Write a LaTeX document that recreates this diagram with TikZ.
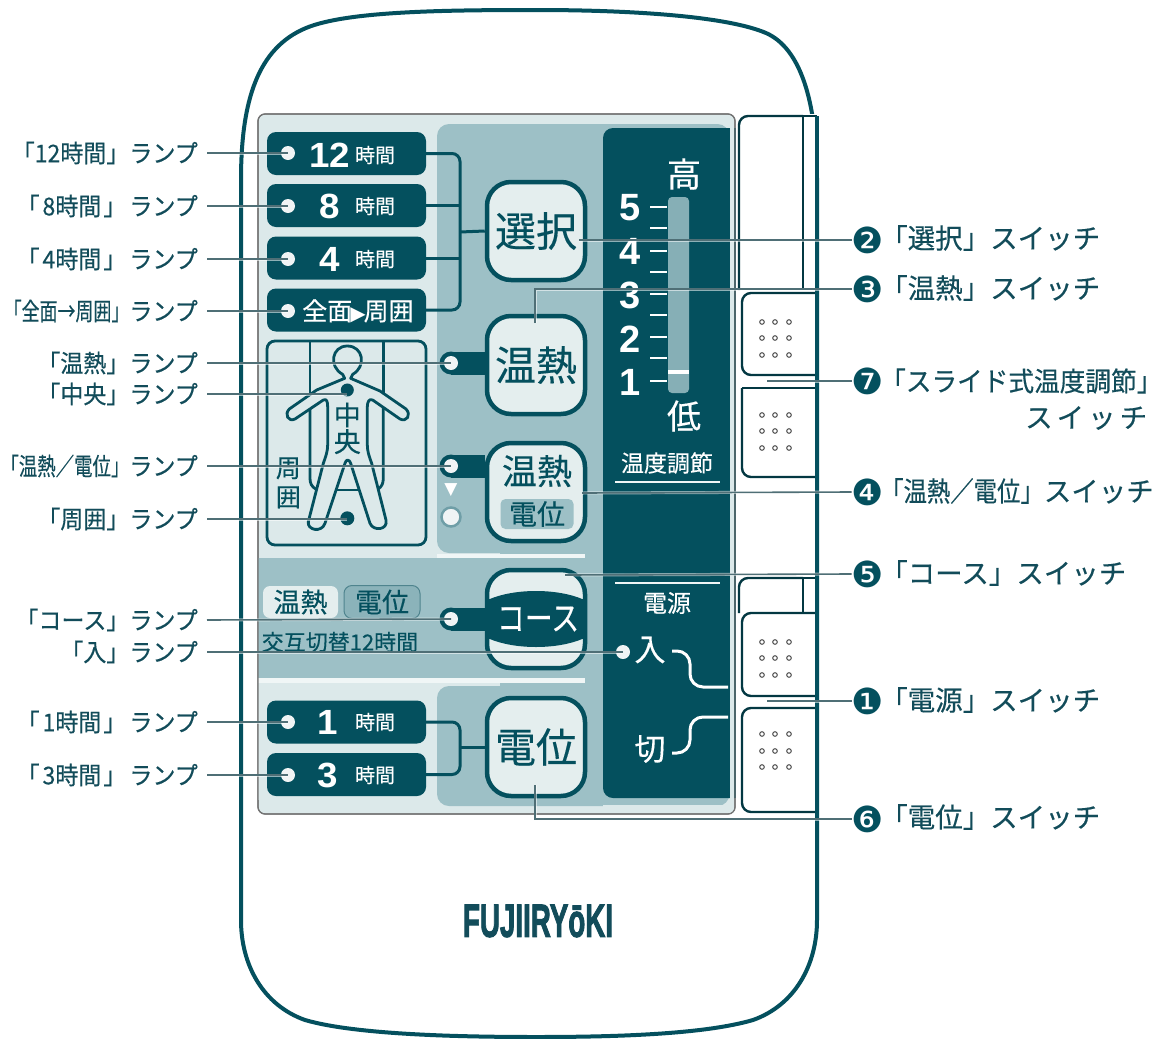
\documentclass[tikz,border=0pt]{standalone}
\usepackage{fontspec}
\newfontfamily\jp{Noto Sans CJK JP}[FakeBold=0.35]
\newfontfamily\jpl{Noto Sans CJK JP}[FakeStretch=0.94,FakeBold=0.35]
\newfontfamily\lsb{Liberation Sans}
\newfontfamily\lsw{Liberation Sans Bold}[FakeStretch=1.05]
\newfontfamily\logof{Liberation Sans Bold}[FakeBold=2.5]
\newfontfamily\djv{DejaVu Sans}
\definecolor{teal1}{HTML}{04505E}
\definecolor{tealtxt}{HTML}{124C5A}
\definecolor{midb}{HTML}{9DC0C6}
\definecolor{lightb}{HTML}{DCE9EA}
\definecolor{btnface}{HTML}{E4EEEE}
\definecolor{calloutc}{HTML}{4F6F76}
\newcommand{\fs}[1]{\fontsize{#1}{#1}\selectfont}
\newcommand{\hlab}[1]{「\hspace{3pt}#1時間\hspace{2pt}」\hspace{3pt}ランプ}
\tikzset{
  lampbtn/.style={draw=none,fill=teal1,rounded corners=9pt,minimum width=159pt,minimum height=43pt,inner sep=0pt},
  swbtn/.style={draw=teal1,line width=4.5pt,fill=btnface,rounded corners=24pt,minimum width=98pt,minimum height=98pt,inner sep=0pt,text=teal1},
  lampdot/.style={circle,fill=white!94!teal1,inner sep=0pt,minimum size=14pt},
  halo/.style={circle,fill=teal1,inner sep=0pt,minimum size=23pt},
  darkdot/.style={circle,fill=teal1,inner sep=0pt,minimum size=14pt},
  barline/.style={draw=teal1,line width=23pt},
  bracket/.style={draw=teal1,line width=3pt,rounded corners=8pt},
  numtxt/.style={text=white,font=\lsw\fs{35},inner sep=0pt},
  hourtxt/.style={text=white,font=\jp\fs{20},inner sep=0pt},
  panelw/.style={text=white,font=\jp\fs{24},inner sep=0pt},
  scalenum/.style={text=white,font=\lsb\bfseries\fs{38},inner sep=0pt},
  leftlab/.style={anchor=east,text=tealtxt,font=\jpl\fs{24.5},inner sep=0pt},
  rightlab/.style={anchor=west,text=tealtxt,font=\jp\fs{27.5},inner sep=0pt},
  bullet/.style={text=teal1,font=\djv\fs{36},inner sep=0pt},
  callout/.style={draw=calloutc,line width=1.6pt,preaction={draw=white,line width=3pt,opacity=.55}},
  framel/.style={draw=teal1!70!black,line width=2.4pt,rounded corners=9pt},
  grille/.style={draw=black!70,line width=1pt,fill=white,circle,inner sep=0pt,minimum size=4.6pt},
  tick long/.style={draw=white,line width=2.6pt},
  tick short/.style={draw=white,line width=1.2pt},
  wline/.style={draw=white,line width=3pt,rounded corners=13pt},
  bodyl/.style={draw=teal1,line width=2.8pt},
  pilltxt/.style={text=teal1,font=\jp\fs{27},inner sep=0pt},
}
\begin{document}
\begin{tikzpicture}[x=1pt,y=-1pt]
\useasboundingbox (0,0) rectangle (1163,1039);
\fill[white] (0,0) rectangle (1163,1039);
% body
\draw[draw=teal1,line width=4pt] (536,10) .. controls (630,10) and (726,16) .. (766,33) .. controls (800,48) and (817,100) .. (817,180) -- (817,920) .. controls (817,965) and (795,1005) .. (753,1020) .. controls (705,1034) and (620,1037) .. (536,1037) .. controls (450,1037) and (353,1034) .. (305,1020) .. controls (263,1005) and (241,965) .. (241,920) -- (241,180) .. controls (241,100) and (258,48) .. (306,28) .. controls (346,11.4) and (440,10) .. (536,10) -- cycle;
% panel
\draw[draw=black!55,line width=1.2pt,fill=lightb,rounded corners=7pt] (258,114) rectangle (735,814);
\fill[midb,rounded corners=12pt] (437,124) rectangle (729.5,553);
\fill[midb] (258,558) rectangle (729.5,678);
\fill[midb,rounded corners=12pt] (437,686) rectangle (729.5,806);
\fill[midb] (500,540) rectangle (729.5,700);
\fill[white!85!midb] (437,553.5) rectangle (585,558);
\fill[white!85!midb] (258,678) rectangle (585,683);
\fill[lightb] (258,683) rectangle (437,800);
\fill[teal1,rounded corners=10pt] (603,128) rectangle (745,798);
\fill[lightb] (729.5,120) rectangle (733.5,813);
\fill[lightb] (603,805) rectangle (733.5,813);
\draw[draw=black!55,line width=1.2pt,rounded corners=7pt] (258,114) rectangle (735,814);
% switches
\node[swbtn] (sw1) at (536,231) {\jp\fs{41}選択};
\node[swbtn] (sw2) at (536,365) {\jp\fs{41}温熱};
\node[swbtn] (sw3) at (536,492) {};
\node[swbtn] (sw4) at (536,619) {};
\node[swbtn] (sw5) at (536,747) {\jp\fs{41}電位};
\begin{scope}
\clip[rounded corners=22pt] (487,570) rectangle (585,668);
\fill[teal1] (536,619) ellipse [x radius=66pt,y radius=28pt];
\end{scope}
\node[text=white,font=\jp\fs{34},inner sep=0pt] (coursetxt) at (538,619) {\scalebox{.82}[1]{コース}};
\node[text=teal1,font=\jp\fs{35},inner sep=0pt] (sw3a) at (537,471) {温熱};
\node[fill=midb,rounded corners=5pt,minimum width=73pt,minimum height=30pt,inner sep=0pt,text=teal1,font=\jp\fs{28}] (sw3b) at (537,514) {電位};
% lamp buttons
\node[lampbtn] (b12) at (346.5,153.5) {};
\node[lampbtn] (b8) at (346.5,205.5) {};
\node[lampbtn] (b4) at (346.5,258) {};
\node[lampbtn] (bz) at (346.5,310) {};
\node[lampbtn] (b1) at (346.5,722) {};
\node[lampbtn] (b3) at (346.5,774.5) {};
\coordinate (jA) at (460,232);
\coordinate (jB) at (460,747);
\draw[bracket] (b12.east) -| (jA) |- (bz.east);
\draw[bracket,rounded corners=0pt] (b8.east) -- (b8.east -| jA);
\draw[bracket,rounded corners=0pt] (b4.east) -- (b4.east -| jA);
\draw[bracket,rounded corners=0pt] (jA) -- (sw1.west);
\draw[bracket] (b1.east) -| (jB) |- (b3.east);
\draw[bracket,rounded corners=0pt] (jB) -- (sw5.west);
\node[lampdot] (d12) at (288,153) {};
\node[lampdot] (d8) at (288,206) {};
\node[lampdot] (d4) at (288,259) {};
\node[lampdot] (dz) at (288,311) {};
\node[lampdot] (d1) at (288,722) {};
\node[lampdot] (d3) at (288,775) {};
\node[numtxt] (n12) at (330,155) {12};
\node[numtxt] (n8) at (330,206) {8};
\node[numtxt] (n4) at (330,259) {4};
\node[numtxt] (n1) at (328,722) {1};
\node[numtxt] (n3) at (328,775) {3};
\node[hourtxt] (h12) at (375,155) {時間};
\node[hourtxt] (h8) at (375,206) {時間};
\node[hourtxt] (h4) at (375,259) {時間};
\node[hourtxt] (h1) at (375,722) {時間};
\node[hourtxt] (h3) at (375,775) {時間};
\node[text=white,font=\jp\fs{25},inner sep=0pt] (zm) at (358,311) {全面\hspace{-2pt}{\djv\fs{20}▶}\hspace{-2pt}周囲};
% side lamps
\node[halo] (hl1) at (451,363) {};
\draw[barline] (hl1.center) -- (hl1 -| sw2.west);
\node[lampdot] (dl1) at (hl1) {};
\node[halo] (hl2) at (451,466) {};
\draw[barline] (hl2.center) -- (hl2 -| sw3.west);
\node[lampdot] (dl2) at (hl2) {};
\node[halo] (hl3) at (451,619) {};
\draw[barline] (hl3.center) -- (hl3 -| sw4.west);
\node[lampdot] (dl3) at (hl3) {};
\node[text=white,font=\djv\fs{17},inner sep=0pt] (tri) at (451,490) {▼};
\node[circle,fill=white!94!teal1,draw=midb!70!teal1,line width=2.5pt,inner sep=0pt,minimum size=19pt] (dlow) at (451,517) {};
% figure box
\node[draw=teal1,line width=2.8pt,rounded corners=8pt,minimum width=159pt,minimum height=204pt,inner sep=0pt] (figbox) at (346.5,443) {};
\begin{scope}[shift={(260,335)},x=.3333pt,y=-.3333pt]
\draw[bodyl] (150,18) -- (150,178);
\draw[bodyl] (150,222) -- (150,430) .. controls (150,445) and (155,455) .. (167,462);
\draw[bodyl] (370,18) -- (370,175);
\draw[bodyl] (370,217) -- (370,430) .. controls (370,445) and (365,455) .. (355,462);
\draw[bodyl,line join=round] (248,118) .. controls (205,95) and (215,33) .. (262,33) .. controls (310,33) and (320,95) .. (278,118)
 -- (272,130) -- (360,168) -- (438,222) .. controls (455,240) and (440,262) .. (420,252) -- (338,195) .. controls (328,190) and (322,200) .. (322,215) -- (322,330) .. controls (322,350) and (328,365) .. (335,385) -- (378,555) .. controls (385,585) and (340,590) .. (330,565) -- (272,385) .. controls (268,372) and (258,372) .. (255,385) -- (195,565) .. controls (185,595) and (140,585) .. (145,560) -- (190,385) .. controls (197,365) and (203,350) .. (203,330) -- (203,215) .. controls (203,200) and (200,190) .. (190,195) -- (105,252) .. controls (85,262) and (72,238) .. (88,222) -- (170,165) -- (254,130) -- cycle;
\draw[bodyl] (225,465) -- (300,465);
\node[darkdot,minimum size=13pt] (dchu) at (262,165) {};
\node[darkdot,minimum size=14pt] (dshu) at (262,550) {};
\node[text=teal1,font=\jp\fs{27},inner sep=0pt] (chu) at (262,240) {中};
\node[text=teal1,font=\jp\fs{27},inner sep=0pt] (ou) at (262,320) {央};
\node[text=teal1,font=\jp\fs{25},inner sep=0pt] (shu) at (85,400) {周};
\node[text=teal1,font=\jp\fs{25},inner sep=0pt] (i) at (85,487) {囲};
\end{scope}
% course pills
\node[fill=btnface,rounded corners=7pt,minimum width=75pt,minimum height=32pt,inner sep=0pt,pilltxt] (p1) at (300.5,602) {温熱};
\node[fill=midb!88!teal1,draw=teal1!70,line width=1pt,rounded corners=8pt,minimum width=76pt,minimum height=33pt,inner sep=0pt,pilltxt] (p2) at (382,602) {電位};
\node[text=teal1,font=\jp\fs{22},inner sep=0pt] (alt) at (340,642) {交互切替12時間};
% scale panel
\node[fill=midb!85!teal1,rounded corners=4pt,minimum width=21pt,minimum height=196pt,inner sep=0pt] (bar) at (678.5,295) {};
\fill[white] (668,370) rectangle (689,374);
\node[scalenum] (s5) at (630,208) {5};
\node[scalenum] (s4) at (630,251) {4};
\node[scalenum] (s3) at (630,295) {3};
\node[scalenum] (s2) at (630,339) {2};
\node[scalenum] (s1) at (630,382) {1};
\foreach \yy in {207,251,294,337,381} \draw[tick long] (650,\yy) -- (667,\yy);
\foreach \yy in {228,272,315,358} \draw[tick short] (650,\yy) -- (667,\yy);
\node[text=white,font=\jp\fs{34},inner sep=0pt] (hi) at (684,174) {高};
\node[text=white,font=\jp\fs{34},inner sep=0pt] (lo) at (684,416) {低};
\node[panelw,font=\jp\fs{23}] (tc) at (667,463) {温度調節};
\draw[draw=white!85!midb,line width=1.4pt] (615,482) -- (720,482);
\draw[draw=white!85!midb,line width=1.4pt] (615,583) -- (720,583);
\node[panelw] (pw) at (667,603) {電源};
\node[text=white,font=\jp\fs{31},inner sep=0pt] (on) at (650,650) {入};
\node[text=white,font=\jp\fs{31},inner sep=0pt] (off) at (650,749) {切};
\node[lampdot] (don) at (623,652) {};
\draw[wline] (672,651) -- (690,651) -- (690,687) -- (728,687);
\draw[wline] (672,753) -- (690,753) -- (690,717) -- (728,717);
% logo
\node[text=tealtxt,inner sep=0pt] (logo) at (538,921) {\resizebox{150pt}{32pt}{\logof FUJIIRYōKI}};
% right sliders
\fill[white] (736,114) rectangle (815,814);
\draw[framel] (803,116) -- (739,116) -- (739,290);
\draw[framel,rounded corners=0pt] (803,116) -- (817,116);
\draw[framel,rounded corners=0pt] (803,116) -- (803,290);
\draw[framel] (817,293) -- (742,293) -- (742,375) -- (817,375);
\draw[framel] (742,388) -- (742,477) -- (817,477);
\draw[framel,rounded corners=0pt] (742,388) -- (817,388);
\draw[framel] (803,578) -- (739,578) -- (739,613);
\draw[framel,rounded corners=0pt] (803,578) -- (817,578);
\draw[framel,rounded corners=0pt] (803,578) -- (803,613);
\draw[framel] (817,613) -- (742,613) -- (742,696) -- (817,696);
\draw[framel] (817,708) -- (742,708) -- (742,812) -- (817,812);
\draw[draw=teal1,line width=4pt] (817,116) -- (817,820);
\foreach \yy in {322,338,355,415,431,448,642,658,675,734,751,767}
  \foreach \xx in {762,775,789} \node[grille] at (\xx,\yy) {};
% left labels
\node[leftlab] (l12) at (198,153) {「12時間」ランプ};
\node[leftlab] (l8) at (198,206) {\hlab{8}};
\node[leftlab] (l4) at (198,259) {\hlab{4}};
\node[leftlab] (lz) at (198,311) {\scalebox{.78}[1]{「全面→周囲」}ランプ};
\node[leftlab] (lon) at (198,363) {「温熱」ランプ};
\node[leftlab] (lchu) at (198,394) {「中央」ランプ};
\node[leftlab] (ldn) at (198,466) {\scalebox{.8}[1]{「温熱／電位」}ランプ};
\node[leftlab] (lshu) at (198,519) {「周囲」ランプ};
\node[leftlab] (lc) at (198,620) {「コース」ランプ};
\node[leftlab] (li) at (198,652) {「入」ランプ};
\node[leftlab] (l1) at (198,722) {\hlab{1}};
\node[leftlab] (l3) at (198,775) {\hlab{3}};
\draw[callout] (l12.east) ++(9,0) -- (d12.center);
\draw[callout] (l8.east) ++(9,0) -- (d8.center);
\draw[callout] (l4.east) ++(9,0) -- (d4.center);
\draw[callout] (lz.east) ++(9,0) -- (dz.center);
\draw[callout] (lon.east) ++(9,0) -- (dl1.center);
\draw[callout] (lchu.east) ++(9,0) -- (lchu.east -| dchu.center);
\draw[callout] (ldn.east) ++(9,0) -- (dl2.center);
\draw[callout] (lshu.east) ++(9,0) -- (lshu.east -| dshu.center);
\draw[callout] (lc.east) ++(9,0) -- (dl3.center);
\draw[callout] (li.east) ++(9,0) -- (don.center);
\draw[callout] (l1.east) ++(9,0) -- (d1.center);
\draw[callout] (l3.east) ++(9,0) -- (d3.center);
% right labels
\node[bullet] (q2) at (868,240) {❷};
\node[bullet] (q3) at (868,289) {❸};
\node[bullet] (q7) at (868,381) {❼};
\node[bullet] (q4) at (868,492) {❹};
\node[bullet] (q5) at (868,574) {❺};
\node[bullet] (q1) at (868,701) {❶};
\node[bullet] (q6) at (868,819) {❻};
\node[rightlab] (r2) at (880,238) {「選択」スイッチ};
\node[rightlab] (r3) at (880,288) {「温熱」スイッチ};
\node[rightlab,font=\jp\fs{27}] (r7) at (880,381) {\scalebox{.95}[1]{「スライド式温度調節」}};
\node[rightlab] (r7b) at (1025,418) {ス\hspace{4pt}イ\hspace{4pt}ッ\hspace{4pt}チ};
\node[rightlab] (r4) at (880,491) {\scalebox{.85}[1]{「温熱／電位」}スイッチ};
\node[rightlab] (r5) at (880,573) {「コース」スイッチ};
\node[rightlab] (r1) at (880,700) {「電源」スイッチ};
\node[rightlab] (r6) at (880,817) {「電位」スイッチ};
\coordinate (c2) at (579,240);
\coordinate (c3) at (535,323);
\coordinate (c7) at (767,381);
\coordinate (c4) at (582,493);
\coordinate (c5) at (565,575);
\coordinate (c1) at (767,701);
\coordinate (c6) at (535,785);
\draw[callout] (c2) -- (q2.west);
\draw[callout] (c3) |- (q3.west);
\draw[callout] (c7) -- (q7.west);
\draw[callout] (c4) -- (q4.west);
\draw[callout] (c5) -- (q5.west);
\draw[callout] (c1) -- (q1.west);
\draw[callout] (c6) |- (q6.west);
\end{tikzpicture}
\end{document}
